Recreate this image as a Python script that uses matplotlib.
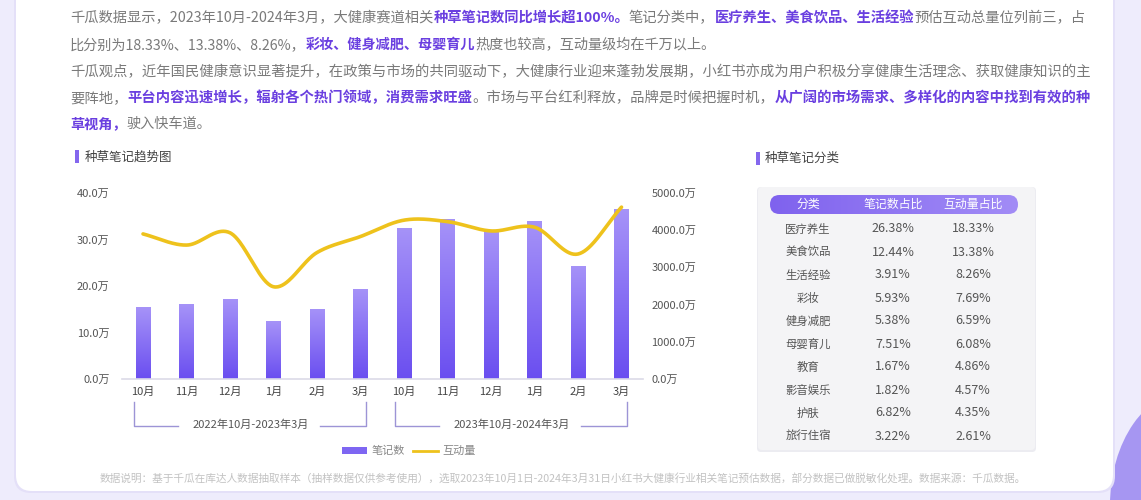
import numpy as np
import matplotlib
matplotlib.use('Agg')
import matplotlib.pyplot as plt
from matplotlib.patches import FancyBboxPatch, Rectangle, Ellipse, Patch
from matplotlib.lines import Line2D
from matplotlib.colors import LinearSegmentedColormap

plt.rcParams['font.family'] = ['Noto Sans CJK SC', 'DejaVu Sans']

# ---------------- data ----------------
months = ['10月', '11月', '12月', '1月', '2月', '3月',
          '10月', '11月', '12月', '1月', '2月', '3月']
notes_wan = [15.4, 16.1, 17.3, 12.4, 15.1, 19.4,
             32.5, 34.4, 31.8, 34.0, 24.4, 36.5]
interactions_wan = [3900, 3600, 3930, 2480, 3400, 3830,
                    4270, 4230, 3980, 4080, 3360, 4620]
periods = ['2022年10月-2023年3月', '2023年10月-2024年3月']
left_ticks = [0, 10, 20, 30, 40]
right_ticks = [0, 1000, 2000, 3000, 4000, 5000]
legend_labels = ['笔记数', '互动量']

table_header = ['分类', '笔记数占比', '互动量占比']
categories = ['医疗养生', '美食饮品', '生活经验', '彩妆', '健身减肥',
              '母婴育儿', '教育', '影音娱乐', '护肤', '旅行住宿']
note_share = ['26.38%', '12.44%', '3.91%', '5.93%', '5.38%',
              '7.51%', '1.67%', '1.82%', '6.82%', '3.22%']
inter_share = ['18.33%', '13.38%', '8.26%', '7.69%', '6.59%',
               '6.08%', '4.86%', '4.57%', '4.35%', '2.61%']

chart_title = '种草笔记趋势图'
table_title = '种草笔记分类'

# paragraph runs: (text, highlighted)
para_lines = [
    [('千瓜数据显示，2023年10月-2024年3月，大健康赛道相关', False),
     ('种草笔记数同比增长超100%。', True),
     ('笔记分类中，', False),
     ('医疗养生、美食饮品、生活经验', True),
     ('预估互动总量位列前三，占', False)],
    [('比分别为18.33%、13.38%、8.26%，', False),
     ('彩妆、健身减肥、母婴育儿', True),
     ('热度也较高，互动量级均在千万以上。', False)],
    [('千瓜观点，近年国民健康意识显著提升，在政策与市场的共同驱动下，大健康行业迎来蓬勃发展期，小红书亦成为用户积极分享健康生活理念、获取健康知识的主', False)],
    [('要阵地，', False),
     ('平台内容迅速增长，辐射各个热门领域，消费需求旺盛', True),
     ('。市场与平台红利释放，品牌是时候把握时机，', False),
     ('从广阔的市场需求、多样化的内容中找到有效的种', True)],
    [('草视角，', True),
     ('驶入快车道。', False)],
]
footnote = '数据说明：基于千瓜在库达人数据抽取样本（抽样数据仅供参考使用），选取2023年10月1日-2024年3月31日小红书大健康行业相关笔记预估数据，部分数据已做脱敏化处理。数据来源：千瓜数据。'

# ---------------- styles ----------------
W, H = 1141, 500
GRAY = '#7a7a7a'
PURPLE_TXT = '#6a3fe0'
LINE_C = '#eec21c'
BAR_BOTTOM = '#6a4ef0'
BAR_TOP = '#a693f8'

fig = plt.figure(figsize=(W / 100, H / 100), dpi=100, facecolor='#eeecfc')
ov = fig.add_axes([0, 0, 1, 1])
ov.set_zorder(0)
ov.axis('off')


def set_ov_limits():
    ov.set_xlim(0, W)
    ov.set_ylim(H, 0)
    ov.set_aspect('auto')


set_ov_limits()

# background decorations
ov.add_patch(Ellipse((1190, 505), 160, 230, fc='#a696f2', ec='none', zorder=0))
ov.add_patch(FancyBboxPatch((14, -30), 1101, 523, boxstyle='round,pad=0,rounding_size=17',
                            fc='#e4e0f8', ec='none', zorder=0.5))
ov.add_patch(FancyBboxPatch((16, -30), 1097, 521, boxstyle='round,pad=0,rounding_size=16',
                            fc='white', ec='none', zorder=1))

renderer = fig.canvas.get_renderer()


def measure(s, size, weight):
    t = ov.text(0, 0, s, fontsize=size, fontweight=weight)
    w = t.get_window_extent(renderer).width
    t.remove()
    return w


def draw_runs(runs, y, x0, size, target=None, color=None):
    def wt(h):
        return 'bold' if h else 'normal'
    if target is not None:
        total = sum(measure(s, size, wt(h)) for s, h in runs)
        size = size * target / total
    x = x0
    for s, h in runs:
        c = color if color else (PURPLE_TXT if h else GRAY)
        ov.text(x, y, s, fontsize=size, fontweight=wt(h),
                color=c, va='center', ha='left', zorder=3)
        x += measure(s, size, wt(h))


line_ys = [18, 45, 72, 98, 124]
justified = [True, False, True, True, False]
base_size = 10.2
for runs, y, j in zip(para_lines, line_ys, justified):
    draw_runs(runs, y, 70, base_size, target=(1085 - 70) if j else None)

# footnote
draw_runs([(footnote, False)], 478, 100, 7.0, target=935, color='#c2c2c2')

# section titles
ov.add_patch(Rectangle((75, 150), 4, 13, fc='#8467ee', ec='none', zorder=3))
ov.text(85, 157, chart_title, fontsize=9, color='#444', va='center', ha='left', zorder=3)
ov.add_patch(Rectangle((756, 152), 4, 13, fc='#8467ee', ec='none', zorder=3))
ov.text(765, 158, table_title, fontsize=9, color='#444', va='center', ha='left', zorder=3)

# ---------------- table ----------------
ov.add_patch(FancyBboxPatch((757, 187), 279, 265, boxstyle='round,pad=0,rounding_size=4',
                            fc='#ececf1', ec='none', zorder=1.5))
ov.add_patch(FancyBboxPatch((758, 187), 277, 263, boxstyle='round,pad=0,rounding_size=4',
                            fc='#f4f4f6', ec='none', zorder=2))
pill = FancyBboxPatch((770, 195), 248, 19, boxstyle='round,pad=0,rounding_size=9.5',
                      fc='none', ec='none', zorder=2.5)
ov.add_patch(pill)
hcmap = LinearSegmentedColormap.from_list('h', ['#7f62ee', '#a28cf6'])
im = ov.imshow(np.linspace(0, 1, 256).reshape(1, -1), cmap=hcmap,
               extent=(770, 1018, 214, 195), aspect='auto', zorder=2.6)
im.set_clip_path(pill)
set_ov_limits()
col_x = [808, 893, 973]
for cx, h in zip(col_x, table_header):
    ov.text(cx, 204.5, h, fontsize=8.6, color='white', ha='center', va='center', zorder=3)
for i, (c, n, r) in enumerate(zip(categories, note_share, inter_share)):
    y = 229 + 23 * i
    ov.text(col_x[0], y, c, fontsize=8.2, color='#555', ha='center', va='center', zorder=3)
    ov.text(col_x[1], y, n, fontsize=9, color='#555', ha='center', va='center', zorder=3)
    ov.text(col_x[2], y, r, fontsize=9, color='#555', ha='center', va='center', zorder=3)

# ---------------- chart ----------------
ax = fig.add_axes([122 / W, (H - 379) / H, (643 - 122) / W, 186 / H])
ax.set_zorder(2)
ax.patch.set_alpha(0)
x = np.arange(len(months))
bars = ax.bar(x, notes_wan, width=0.33, color='none', edgecolor='none', zorder=2)
vcmap = LinearSegmentedColormap.from_list('v', [BAR_BOTTOM, BAR_TOP])
grad = np.linspace(0, 1, 256).reshape(-1, 1)
for b in bars:
    x0, w, hgt = b.get_x(), b.get_width(), b.get_height()
    g = ax.imshow(grad, cmap=vcmap, origin='lower', extent=(x0, x0 + w, 0, hgt),
                  aspect='auto', zorder=2)
    g.set_clip_path(b)
ax.set_xlim(-0.483, 11.494)
ax.set_ylim(0, 40)
for s in ('top', 'left', 'right'):
    ax.spines[s].set_visible(False)
ax.spines['bottom'].set_color('#dcdae8')
ax.spines['bottom'].set_linewidth(1.2)
ax.set_yticks(left_ticks)
ax.set_yticklabels([f'{v:.1f}万' for v in left_ticks])
ax.set_xticks(x)
ax.set_xticklabels(months)
ax.tick_params(axis='y', length=0, pad=9, labelsize=8, labelcolor='#555')
ax.tick_params(axis='x', length=0, pad=6, labelsize=8, labelcolor='#444')

ax2 = ax.twinx()
ax2.patch.set_alpha(0)
for s in ax2.spines.values():
    s.set_visible(False)
ax2.set_ylim(0, 5000)
ax2.set_yticks(right_ticks)
ax2.set_yticklabels([f'{v:.1f}万' for v in right_ticks])
ax2.tick_params(axis='y', length=0, pad=6, labelsize=8, labelcolor='#555')


def catmull_rom(xs, ys, n=40):
    P = np.column_stack([xs, ys]).astype(float)
    P = np.vstack([2 * P[0] - P[1], P, 2 * P[-1] - P[-2]])
    t = np.linspace(0, 1, n, endpoint=False)[:, None]
    segs = []
    for i in range(1, len(P) - 2):
        p0, p1, p2, p3 = P[i - 1], P[i], P[i + 1], P[i + 2]
        seg = 0.5 * (2 * p1 + (-p0 + p2) * t + (2 * p0 - 5 * p1 + 4 * p2 - p3) * t ** 2
                     + (-p0 + 3 * p1 - 3 * p2 + p3) * t ** 3)
        segs.append(seg)
    segs.append(P[-2][None, :])
    out = np.vstack(segs)
    return out[:, 0], out[:, 1]


sx, sy = catmull_rom(x, interactions_wan)
ax2.plot(sx, sy, color=LINE_C, lw=2.6, solid_capstyle='round', zorder=3)
ax2.set_xlim(-0.483, 11.494)

# period brackets
fig.canvas.draw()


def px(xv):
    return ax.transData.transform((xv, 0))[0]


groups = [(0, 5), (6, 11)]
for (i0, i1), label in zip(groups, periods):
    xl, xr = px(i0 - 0.2), px(i1 + 0.13)
    xm = (xl + xr) / 2
    yb, yt = 426, 402
    c = '#9d94d6'
    ov.plot([xl, xl, xl + 44], [yt, yb, yb], color=c, lw=1, zorder=3)
    ov.plot([xr - 46, xr, xr], [yb, yb, yt], color=c, lw=1, zorder=3)
    ov.text(xm, yb - 1, label, fontsize=8, color='#555', ha='center', va='center', zorder=3)
set_ov_limits()

handles = [Patch(fc='#7e66f2', ec='none'), Line2D([], [], color=LINE_C, lw=2)]
fig.legend(handles, legend_labels, loc='center', bbox_to_anchor=(409 / W, 1 - 451 / H),
           ncol=2, frameon=False, fontsize=8, labelcolor='#888', handlelength=2.2,
           handleheight=0.55, columnspacing=0.8, handletextpad=0.4)

fig.savefig('out.png', dpi=100, facecolor=fig.get_facecolor())
